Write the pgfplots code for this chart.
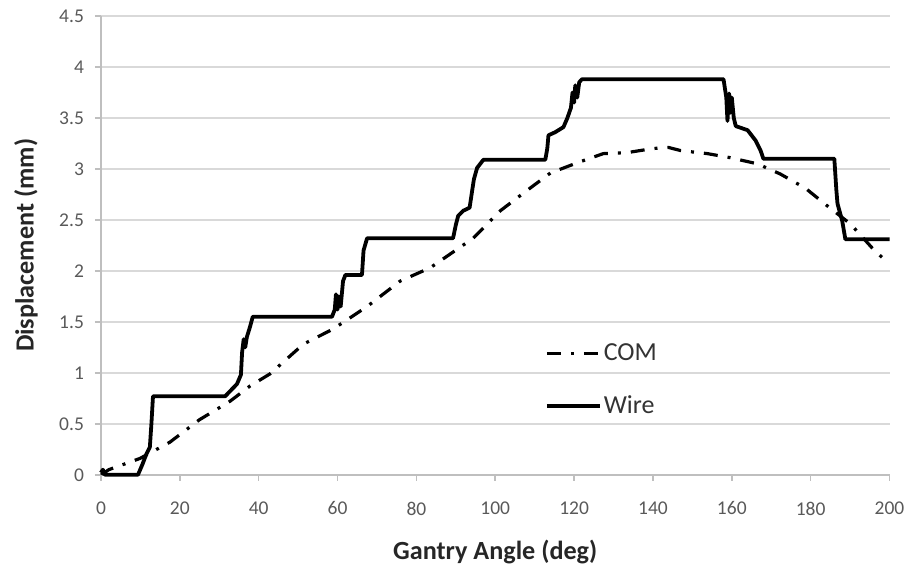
\documentclass[border=0pt]{standalone}
\usepackage{fontspec}
\setmainfont{Carlito}
\usepackage{pgfplots}
\pgfplotsset{compat=1.18}
\definecolor{gridgray}{HTML}{D9D9D9}
\definecolor{axisgray}{HTML}{BFBFBF}
\definecolor{labgray}{HTML}{595959}
\begin{document}
\begin{tikzpicture}
\begin{axis}[
  scale only axis,
  width=394.5pt, height=229.5pt,
  xmin=0, xmax=200, ymin=0, ymax=4.5,
  xtick={0,20,...,200},
  ytick={0,0.5,...,4.5},
  axis lines*=left,
  axis line style={draw=axisgray, line width=0.8pt},
  ymajorgrids, grid style={draw=gridgray, line width=0.8pt},
  tick align=outside,
  major tick length=3pt,
  tick style={draw=axisgray, line width=0.8pt},
  /pgf/number format/assume math mode=true,
  tick label style={font=\fontsize{9.75}{11}\selectfont, text=labgray},
  xticklabel style={yshift=-7pt},
  yticklabel style={xshift=-2pt},
  xlabel={\textbf{Gantry Angle (deg)}},
  ylabel={\textbf{Displacement (mm)}},
  label style={font=\fontsize{13.1}{15}\selectfont, text=black!85},
  xlabel style={at={(axis description cs:0.5,-0.1685)}, anchor=center},
  ylabel style={at={(axis description cs:-0.0951,0.5)}, anchor=center, rotate=0},
  legend style={at={(0.555,0.30)}, anchor=north west, draw=none, fill=none,
    font=\fontsize{13}{15}\selectfont, text=black!80, row sep=14pt,
    nodes={inner sep=1pt}},
  legend cell align=left,
  legend image code/.code={\draw[#1] (0pt,0pt) -- (26.5pt,0pt);},
  clip=false,
]
\addplot[black, line width=1.6pt, dash pattern=on 7pt off 5pt on 1.5pt off 5pt] coordinates {
(0,0.02) (0.5,0.01) (2,0.05) (5.6,0.1) (9.9,0.16) (17.5,0.32) (25,0.54)
(32.7,0.72) (37.8,0.87) (42.9,0.99) (51.3,1.28) (58.9,1.43) (67.5,1.65)
(75.9,1.9) (83.5,2.03) (94.4,2.32) (101.3,2.59) (108.1,2.79) (114,2.96)
(120.8,3.06) (127.4,3.15) (133.5,3.16) (140,3.2) (144,3.21) (147,3.18)
(153.8,3.15) (159.6,3.11) (166.5,3.05) (172.3,2.95) (178.7,2.81)
(183.8,2.65) (190.1,2.46) (196.4,2.19) (200,2.07)
};
\addlegendentry{COM}
\addplot[black, line width=1.9pt, line join=round] coordinates {
(0,0.02) (0.5,0.05) (1,0) (9.4,0) (10.5,0.1) (11.5,0.2) (12.4,0.27)
(12.8,0.5) (13.2,0.77) (31.5,0.77) (33,0.83) (34.5,0.89) (35.5,0.98)
(35.8,1.2) (36.2,1.33) (36.6,1.25) (37,1.35) (37.8,1.45) (38.5,1.55)
(58.6,1.55) (59.3,1.62) (59.6,1.77) (60,1.62) (60.3,1.75) (60.8,1.65)
(61.4,1.9) (62,1.96) (66.2,1.96) (66.6,2.2) (67.5,2.32) (89.3,2.32)
(90,2.45) (90.6,2.54) (91.9,2.59) (93.5,2.62) (94.2,2.8) (94.6,2.9)
(95.4,3.01) (97,3.09) (112.7,3.09) (113.2,3.2) (113.5,3.33) (115.2,3.36)
(117.3,3.41) (118.3,3.5) (119.2,3.6) (119.6,3.75) (120,3.65) (120.3,3.82)
(120.8,3.7) (121.3,3.85) (122,3.88) (157.9,3.88) (158.6,3.7) (158.9,3.47)
(159.3,3.74) (159.6,3.55) (160,3.7) (160.5,3.5) (161,3.42) (164,3.38)
(166,3.28) (167.3,3.18) (168,3.1) (186,3.1) (186.5,2.8) (186.8,2.66)
(188,2.49) (188.8,2.31) (200,2.31)
};
\addlegendentry{Wire}
\end{axis}
\path[use as bounding box] ([shift={(-50.5pt,-45.5pt)}]current axis.south west) rectangle ([shift={(10.5pt,8pt)}]current axis.north east);
\end{tikzpicture}
\end{document}
